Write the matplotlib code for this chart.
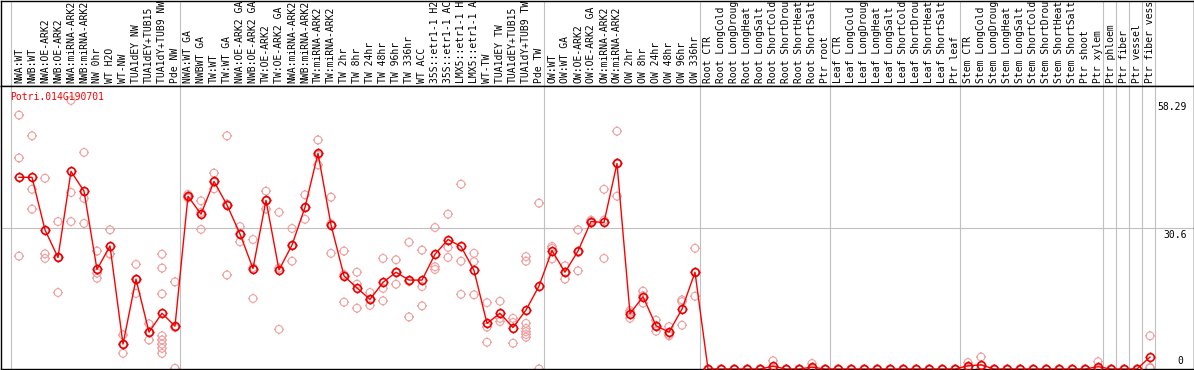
import matplotlib
matplotlib.use('Agg')
import matplotlib.pyplot as plt
from matplotlib.path import Path

# Sample names (top labels, one per column, as far as they are readable)
labels = [
    'NWA:WT', 'NWB:WT', 'NWA:OE-ARK2', 'NWB:OE-ARK2', 'NWA:miRNA-ARK2', 'NWB:miRNA-ARK2',
    'NW 0hr', 'WT H2O', 'WT-NW', 'TUA1dEY NW', 'TUA1dEY+TUB15', 'TUA1dY+TUB9 NW', 'Pde NW',
    'NWA:WT GA', 'NWBWT GA', 'TW:WT', 'TW:WT GA', 'NWA:OE-ARK2 GA', 'NWB:OE-ARK2 GA',
    'TW:OE-ARK2', 'TW:OE-ARK2 GA', 'NWA:miRNA-ARK2', 'NWB:miRNA-ARK2', 'TW:miRNA-ARK2',
    'TW:miRNA-ARK2', 'TW 2hr', 'TW 8hr', 'TW 24hr', 'TW 48hr', 'TW 96hr', 'TW 336hr',
    'WT ACC', '35S::etr1-1 H2', '35S::etr1-1 AC', 'LMX5::etr1-1 H', 'LMX5::etr1-1 A',
    'WT-TW', 'TUA1dEY TW', 'TUA1dEY+TUB15', 'TUA1dY+TUB9 TW', 'Pde TW',
    'OW:WT', 'OW:WT GA', 'OW:OE-ARK2', 'OW:OE-ARK2 GA', 'OW:miRNA-ARK2', 'OW:miRNA-ARK2',
    'OW 2hr', 'OW 8hr', 'OW 24hr', 'OW 48hr', 'OW 96hr', 'OW 336hr',
    'Root CTR', 'Root LongCold', 'Root LongDroug', 'Root LongHeat', 'Root LongSalt',
    'Root ShortCold', 'Root ShortDrou', 'Root ShortHeat', 'Root ShortSalt', 'Ptr root',
    'Leaf CTR', 'Leaf LongCold', 'Leaf LongDroug', 'Leaf LongHeat', 'Leaf LongSalt',
    'Leaf ShortCold', 'Leaf ShortDrou', 'Leaf ShortHeat', 'Leaf ShortSalt', 'Ptr leaf',
    'Stem CTR', 'Stem LongCold', 'Stem LongDroug', 'Stem LongHeat', 'Stem LongSalt',
    'Stem ShortCold', 'Stem ShortDrou', 'Stem ShortHeat', 'Stem ShortSalt', 'Ptr shoot',
    'Ptr xylem', 'Ptr phloem', 'Ptr fiber', 'Ptr vessel', 'Ptr fiber vess',
]

# Mean expression per sample (red line)
means = [
    41.6, 41.6, 30.2, 24.2, 42.9, 38.6, 21.6, 26.7, 5.4, 19.5, 8.0, 12.1, 9.3,
    37.5, 33.6, 40.7, 35.6, 29.3, 21.8, 36.6, 21.5, 26.9, 35.1, 46.8, 31.3, 20.2, 17.6,
    15.1, 18.8, 21.0, 19.3, 19.3, 24.9, 28.1, 26.6, 21.4, 9.9, 12.1, 9.0, 12.8, 18.0,
    25.7, 21.0, 25.6, 32.0, 31.8, 44.6, 12.0, 15.7, 9.4, 8.0, 13.0, 21.0,
    0, 0, 0, 0, 0, 0.6, 0, 0, 0.4, 0,
    0, 0, 0, 0, 0, 0, 0, 0, 0, 0,
    0.7, 0.9, 0, 0, 0, 0, 0, 0, 0, 0,
    0.5, 0, 0, 0, 2.6,
]

# Individual replicates (pink circles)
reps = [
    [55.1, 45.8, 24.5], [50.6, 39.0, 34.7], [41.4, 25.0, 24.0], [32.0, 24.2, 16.6],
    [58.29, 38.3, 32.0], [47.0, 37.0, 31.6], [25.6, 20.8, 19.7], [30.2, 24.9, 25.0],
    [7.4, 5.4, 3.4], [22.7, 19.5, 16.4], [9.8, 8.0, 6.3],
    [24.9, 21.9, 16.3, 7.2, 6.3, 5.4, 4.5, 3.4], [18.9, 9.0, 0.15],
    [37.9, 37.5, 37.1], [36.5, 34.0, 30.3], [42.5, 40.5, 39.1], [50.6, 35.8, 20.4],
    [30.9, 29.4, 27.6], [28.1, 22.0, 15.3], [38.6, 36.5, 34.7], [34.0, 21.9, 8.6],
    [30.5, 26.8, 23.4], [37.8, 35.0, 32.5], [49.7, 46.4, 44.3], [37.3, 31.5, 25.1],
    [25.6, 20.5, 14.5], [21.0, 18.4, 13.2], [16.6, 15.0, 13.8], [24.0, 17.5, 14.8],
    [23.7, 21.0, 18.4], [27.5, 19.0, 11.3], [25.8, 17.9, 13.7], [30.7, 22.2, 21.6],
    [33.6, 26.4, 24.2], [40.1, 23.4, 16.2], [25.1, 23.3, 16.1], [14.4, 9.1, 5.8],
    [14.7, 11.0, 10.3], [11.0, 10.1, 5.6], [24.4, 23.4, 9.9, 8.8, 8.1, 7.5, 6.9],
    [36.0, 0.0],
    [26.6, 26.2, 23.9], [22.4, 21.0, 19.5], [30.2, 25.3, 21.3], [32.3, 32.0, 31.7],
    [39.0, 32.3, 24.0], [51.6, 44.7, 37.5], [12.7, 12.3, 11.0], [16.9, 15.9, 14.3],
    [10.6, 9.4, 8.2], [9.2, 7.5, 7.2], [15.0, 14.6, 9.5], [26.2, 21.0, 15.8],
    [0, 0, 0], [0, 0, 0], [0, 0, 0], [0, 0, 0], [0, 0, 0],
    [1.8, 0, 0], [0, 0, 0], [0, 0, 0], [1.2, 0, 0], [0, 0, 0],
    [0, 0, 0], [0, 0, 0], [0, 0, 0], [0, 0, 0], [0, 0, 0],
    [0, 0, 0], [0, 0, 0], [0, 0, 0], [0, 0, 0], [0, 0, 0],
    [1.4, 0.5, 0.2], [2.6, 0.1, 0], [0, 0, 0], [0, 0, 0], [0, 0, 0],
    [0, 0, 0], [0, 0, 0], [0, 0, 0], [0, 0, 0], [0, 0, 0],
    [1.6, 0, 0], [0, 0, 0], [0, 0, 0], [0, 0, 0], [7.2, 0.4, 0.2],
]

# last column index of each sample group (gray separators)
group_ends = [-1, 12, 40, 52, 62, 72, 83, 84, 85, 86, 87]

gene = 'Potri.014G190701'
y_max = 58.29
y_mid = 30.6

W, H = 1194, 370
fig = plt.figure(figsize=(W / 100, H / 100), dpi=100)

font = dict(family='DejaVu Sans Mono', fontsize=7.0)
grey = '#c0c0c0'

# columns sit 13 px apart, first one at x=19 px
xlim = ((1 - 19) / 13, (W - 0.5 - 19) / 13)

# label strip on top (0..86 px), plot below (86..369 px)
ax_lab = fig.add_axes([1 / W, (H - 86) / H, (W - 1.5) / W, 85.5 / H])
ax = fig.add_axes([1 / W, 1 / H, (W - 1.5) / W, 283 / H])

for a in (ax_lab, ax):
    a.set_xlim(*xlim)
    a.set_xticks([])
    a.set_yticks([])
    for s in a.spines.values():
        s.set_color('black')
        s.set_linewidth(1.0)
    for g in group_ends:
        a.axvline(g + 0.38, color=grey, lw=0.8, zorder=1)

ax_lab.set_ylim(0, 86)
for j, lab in enumerate(labels):
    ax_lab.text(j, 3, lab, rotation=90, ha='center', va='bottom',
                color='black', **font)

ax.set_ylim(0, 283 / 4.608)
ax.axhline(y_mid, color=grey, lw=0.8, zorder=1)

# circle with four little ticks, like the original glyph
circle = Path.unit_circle()
stubs = Path([(0, 1), (0, 1.3), (0, -1), (0, -1.3), (1, 0), (1.3, 0), (-1, 0), (-1.3, 0)],
             [Path.MOVETO, Path.LINETO] * 4)
mk = Path.make_compound_path(circle, stubs)

xs = [j for j, r in enumerate(reps) for _ in r]
ys = [v for r in reps for v in r]
ax.scatter(xs, ys, s=52, marker=mk, facecolors='none', edgecolors='#f0a0a0',
           linewidths=0.8, zorder=2)

x = list(range(len(means)))
ax.plot(x, means, color='#ff0000', lw=1.0, zorder=3)
ax.plot(x, means, ls='none', marker=mk, ms=7.2, mfc='none', mec='#e60000', mew=1.2, zorder=4)

# gene name and scale values
fig.text(10 / W, 1 - 92 / H, gene, color='red', ha='left', va='top', **font)
tr = ax.get_yaxis_transform()
ax.text(0.9945, y_max - 0.35, f'{y_max:g}', transform=tr, ha='right', va='top', **font)
ax.text(0.9945, y_mid - 0.35, f'{y_mid:g}', transform=tr, ha='right', va='top', **font)
ax.text(0.9915, 0.65, '0', transform=tr, ha='right', va='bottom', **font)

fig.savefig('out.png', dpi=100)
